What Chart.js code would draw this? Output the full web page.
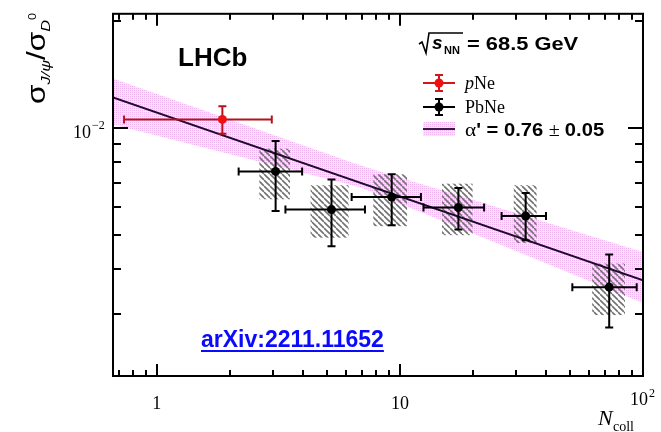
<!DOCTYPE html>
<html><head><meta charset="utf-8">
<script src="https://cdn.jsdelivr.net/npm/chart.js@4.4.0/dist/chart.umd.min.js"></script>
<style>html,body{margin:0;padding:0;background:#fff;}#wrap{width:661px;height:432px;}</style>
</head><body><div id="wrap"><canvas id="c" width="661" height="432"></canvas></div>
<script>
// ---------------- data ----------------
const pNeN        = [1.86];
const pNeRatio    = [0.01058];
const pNeNLow     = [0.733];
const pNeNHigh    = [2.97];
const pNeStatLow  = [0.00964];
const pNeStatHigh = [0.01153];

const pbNeN        = [3.08, 5.23, 9.25, 17.4, 32.9, 72.6];
const pbNeRatio    = [0.00755, 0.00589, 0.00639, 0.00597, 0.00565, 0.00356];
const pbNeNLow     = [2.17, 3.38, 6.33, 12.5, 26.2, 51.2];
const pbNeNHigh    = [3.96, 7.18, 12.2, 22.2, 39.9, 94.2];
const pbNeStatLow  = [0.00584, 0.00464, 0.00532, 0.00518, 0.00483, 0.00274];
const pbNeStatHigh = [0.00919, 0.00716, 0.00741, 0.00678, 0.00656, 0.00440];
const pbNeSysNLow  = [2.64, 4.29, 7.77, 14.9, 29.4, 61.8];
const pbNeSysNHigh = [3.53, 6.15, 10.7, 19.9, 36.5, 84.3];
const pbNeSysLow   = [0.00630, 0.00491, 0.00529, 0.00499, 0.00474, 0.00297];
const pbNeSysHigh  = [0.00875, 0.00690, 0.00741, 0.00697, 0.00690, 0.00415];

const fitN     = [0.66, 100];
const fitRatio = [0.0122, 0.00372];
const bandN    = [0.66, 6.85, 100];
const bandHigh = [0.0138, 0.00785, 0.00447];
const bandLow  = [0.01024, 0.00681, 0.00321];

const xTickValues = [0.7,0.8,0.9,1,2,3,4,5,6,7,8,9,10,20,30,40,50,60,70,80,90,100];
const xTickLabels = {1:'1', 10:'10'};
const yTickValues = [0.002,0.003,0.004,0.005,0.006,0.007,0.008,0.009,0.01,0.02];

const legendLabels = ['pNe', 'PbNe', "\u03b1' = 0.76 \u00b1 0.05"];
const energyLabel = '= 68.5 GeV';
const experimentLabel = 'LHCb';
const refLabel = 'arXiv:2211.11652';

// ---------------- helpers ----------------
const canvas = document.getElementById('c');
const ctx0 = canvas.getContext('2d');
function makeStipple(){
  const c = document.createElement('canvas'); c.width = 2; c.height = 2;
  const g = c.getContext('2d');
  g.fillStyle = '#fbe3fb'; g.fillRect(0,0,2,2);
  g.fillStyle = '#efb3ef'; g.fillRect(0,0,1,1);
  return ctx0.createPattern(c,'repeat');
}
function makeHatch(){
  const s = 6;
  const c = document.createElement('canvas'); c.width = s; c.height = s;
  const g = c.getContext('2d');
  g.strokeStyle = '#727272'; g.lineWidth = 1.6;
  g.beginPath();
  for (let k=-1;k<=1;k++){ g.moveTo(0, k*s); g.lineTo(s, s + k*s); }
  g.stroke();
  return ctx0.createPattern(c,'repeat');
}
const stipple = makeStipple();
const hatch = makeHatch();
const isMajor = v => Math.abs(Math.log10(v) - Math.round(Math.log10(v))) < 1e-6;

let xsc, ysc;
function drawErrors(ctx, xs, ys, xl, xh, yl, yh, color, ch){
  ctx.save();
  ctx.strokeStyle = color; ctx.lineWidth = 2; ctx.lineCap = 'butt';
  for (let i=0;i<xs.length;i++){
    const px = xsc.getPixelForValue(xs[i]), py = ysc.getPixelForValue(ys[i]);
    const x1 = xsc.getPixelForValue(xl[i]), x2 = xsc.getPixelForValue(xh[i]);
    const y1 = ysc.getPixelForValue(yh[i]), y2 = ysc.getPixelForValue(yl[i]);
    ctx.beginPath();
    ctx.moveTo(x1, py); ctx.lineTo(x2, py);
    ctx.moveTo(px, y1); ctx.lineTo(px, y2);
    ctx.moveTo(x1, py-ch); ctx.lineTo(x1, py+ch);
    ctx.moveTo(x2, py-ch); ctx.lineTo(x2, py+ch);
    ctx.moveTo(px-ch, y1); ctx.lineTo(px+ch, y1);
    ctx.moveTo(px-ch, y2); ctx.lineTo(px+ch, y2);
    ctx.stroke();
  }
  ctx.restore();
}

const decor = {
  id: 'decor',
  beforeDatasetDraw(chart, args){
    xsc = chart.scales.x; ysc = chart.scales.y;
    const ds = chart.data.datasets[args.index];
    const ctx = chart.ctx;
    const a = chart.chartArea;
    if (ds.kind === 'fit'){
      ctx.save();
      ctx.beginPath(); ctx.rect(a.left, a.top, a.right-a.left, a.bottom-a.top); ctx.clip();
      ctx.fillStyle = hatch;
      for (let i=0;i<pbNeN.length;i++){
        const x1 = xsc.getPixelForValue(pbNeSysNLow[i]), x2 = xsc.getPixelForValue(pbNeSysNHigh[i]);
        const y1 = ysc.getPixelForValue(pbNeSysHigh[i]), y2 = ysc.getPixelForValue(pbNeSysLow[i]);
        ctx.fillRect(x1, y1, x2-x1, y2-y1);
      }
      ctx.restore();
    }
    if (ds.kind === 'pne') drawErrors(ctx, pNeN, pNeRatio, pNeNLow, pNeNHigh, pNeStatLow, pNeStatHigh, '#b3141c', 4);
    if (ds.kind === 'pbne') drawErrors(ctx, pbNeN, pbNeRatio, pbNeNLow, pbNeNHigh, pbNeStatLow, pbNeStatHigh, '#000', 4);
  },
  afterDraw(chart){
    const ctx = chart.ctx, a = chart.chartArea;
    xsc = chart.scales.x; ysc = chart.scales.y;
    ctx.save();
    // inner ticks (mirrored on all four sides)
    ctx.strokeStyle = '#000'; ctx.lineWidth = 2;
    ctx.beginPath();
    xTickValues.forEach(v => {
      const px = Math.round(xsc.getPixelForValue(v));
      const L = isMajor(v) ? 12 : 6;
      ctx.moveTo(px, a.bottom); ctx.lineTo(px, a.bottom - L);
      ctx.moveTo(px, a.top); ctx.lineTo(px, a.top + L);
    });
    yTickValues.forEach(v => {
      const py = Math.round(ysc.getPixelForValue(v));
      const L = isMajor(v) ? 15 : 8;
      ctx.moveTo(a.left, py); ctx.lineTo(a.left + L, py);
      ctx.moveTo(a.right, py); ctx.lineTo(a.right - L, py);
    });
    ctx.stroke();
    ctx.strokeRect(a.left, a.top, a.right - a.left, a.bottom - a.top);

    // power-of-ten labels
    ctx.fillStyle = '#000';
    ctx.textBaseline = 'alphabetic';
    let px = xsc.getPixelForValue(100);
    ctx.font = '18px "Liberation Serif"'; ctx.textAlign = 'right';
    ctx.fillText('10', px + 5, 405);
    ctx.font = '12px "Liberation Serif"'; ctx.textAlign = 'left';
    ctx.fillText('2', px + 6, 397);
    let py = ysc.getPixelForValue(0.01);
    ctx.font = '18px "Liberation Serif"'; ctx.textAlign = 'right';
    ctx.fillText('10', 91, py + 10);
    ctx.font = '12px "Liberation Serif"'; ctx.textAlign = 'left';
    ctx.fillText('\u22122', 92, py + 1);

    // x title
    ctx.font = 'italic 22px "Liberation Serif"'; ctx.textAlign = 'left';
    ctx.fillText('N', 598, 425);
    ctx.font = '14px "Liberation Serif"';
    ctx.fillText('coll', 613, 431);

    // y title (rotated)
    ctx.save();
    ctx.translate(45, 104);
    ctx.rotate(-Math.PI/2);
    const parts = [
      {t:'\u03c3', f:'25px "Liberation Sans"', dy:0},
      {t:'J/\u03c8', f:'italic 13px "Liberation Sans"', dy:5},
      {t:'/', f:'25px "Liberation Sans"', dy:0},
      {t:'\u03c3', f:'25px "Liberation Sans"', dy:0},
      {t:'D', f:'italic 13px "Liberation Sans"', dy:5},
      {t:'0', f:'10px "Liberation Sans"', dy:-9}
    ];
    let tot = 0;
    parts.forEach(p => { ctx.font = p.f; p.w = ctx.measureText(p.t).width; tot += p.w; });
    ctx.scale(91 / tot, 1);
    let cx = 0;
    ctx.textAlign = 'left';
    parts.forEach(p => { ctx.font = p.f; ctx.fillText(p.t, cx, p.dy); cx += p.w; });
    ctx.restore();

    // LHCb
    ctx.font = 'bold 26px "Liberation Sans"'; ctx.textAlign = 'left';
    ctx.fillText(experimentLabel, 178, 66);

    // sqrt(s_NN) = 68.5 GeV
    ctx.lineWidth = 1.6; ctx.strokeStyle = '#000';
    ctx.beginPath();
    ctx.moveTo(419, 44); ctx.lineTo(422, 42); ctx.lineTo(426, 53); ctx.lineTo(429, 33); ctx.lineTo(463, 33);
    ctx.stroke();
    ctx.font = 'italic bold 19px "Liberation Sans"';
    ctx.fillText('s', 432, 49);
    ctx.font = 'bold 11px "Liberation Sans"';
    ctx.fillText('NN', 444, 54);
    ctx.font = 'bold 19px "Liberation Sans"';
    ctx.save(); ctx.translate(467, 50); ctx.scale(1.15, 1); ctx.fillText(energyLabel, 0, 0); ctx.restore();

    // legend
    const lx1 = 423, lx2 = 455, lxm = 439;
    function legErr(y, lineCol, markCol){
      ctx.strokeStyle = lineCol; ctx.lineWidth = 2;
      ctx.beginPath();
      ctx.moveTo(lx1, y); ctx.lineTo(lx2, y);
      ctx.moveTo(lxm, y-8); ctx.lineTo(lxm, y+8);
      ctx.moveTo(lxm-4, y-8); ctx.lineTo(lxm+4, y-8);
      ctx.moveTo(lxm-4, y+8); ctx.lineTo(lxm+4, y+8);
      ctx.stroke();
      ctx.fillStyle = markCol;
      ctx.beginPath(); ctx.arc(lxm, y, 4.5, 0, Math.PI*2); ctx.fill();
    }
    legErr(83, '#d01818', '#ee1111');
    legErr(107, '#000', '#000');
    ctx.fillStyle = stipple; ctx.fillRect(lx1, 122, lx2-lx1, 14);
    ctx.strokeStyle = '#3b1a48'; ctx.lineWidth = 2;
    ctx.beginPath(); ctx.moveTo(lx1, 129); ctx.lineTo(lx2, 129); ctx.stroke();

    ctx.fillStyle = '#000'; ctx.textBaseline = 'alphabetic';
    ctx.font = 'italic 18px "Liberation Serif"';
    ctx.fillText('p', 465, 89);
    const pw = ctx.measureText('p').width;
    ctx.font = '18px "Liberation Serif"';
    ctx.fillText('Ne', 465 + pw, 89);
    ctx.fillText(legendLabels[1], 465, 113);
    ctx.save(); ctx.translate(465, 136); ctx.scale(1.12, 1);
    ctx.font = '19px "Liberation Serif"';
    ctx.fillText('\u03b1', 0, 0);
    const aw = ctx.measureText('\u03b1').width;
    ctx.font = 'bold 18px "Liberation Sans"';
    ctx.fillText("' = 0.76 ", aw, 0);
    let bw = aw + ctx.measureText("' = 0.76 ").width;
    ctx.font = '18px "Liberation Serif"';
    ctx.fillText('\u00b1', bw, 0);
    bw += ctx.measureText('\u00b1 ').width;
    ctx.font = 'bold 18px "Liberation Sans"';
    ctx.fillText('0.05', bw, 0);
    ctx.restore();

    // arXiv reference
    ctx.font = 'bold 23px "Liberation Sans"';
    ctx.fillStyle = '#0a0aff';
    ctx.fillText(refLabel, 201, 347);
    const rw = ctx.measureText(refLabel).width;
    ctx.fillRect(201, 350, rw, 2);
    ctx.restore();
  }
};

const chart = new Chart(canvas, {
  type: 'scatter',
  data: {
    datasets: [
      { kind:'bandHigh', data: bandN.map((x,i)=>({x, y:bandHigh[i]})), showLine:true, fill:'+1',
        backgroundColor: stipple, borderWidth:0, pointRadius:0, order:4 },
      { kind:'bandLow', data: bandN.map((x,i)=>({x, y:bandLow[i]})), showLine:true, fill:false,
        borderWidth:0, pointRadius:0, order:3 },
      { kind:'fit', data: fitN.map((x,i)=>({x, y:fitRatio[i]})), showLine:true, fill:false,
        borderColor:'#1c0f2a', borderWidth:2, pointRadius:0, order:2 },
      { kind:'pbne', data: pbNeN.map((x,i)=>({x, y:pbNeRatio[i]})), pointRadius:4.5,
        pointBackgroundColor:'#000', pointBorderWidth:0, order:1 },
      { kind:'pne', data: pNeN.map((x,i)=>({x, y:pNeRatio[i]})), pointRadius:4.5,
        pointBackgroundColor:'#ee1111', pointBorderWidth:0, order:0 }
    ]
  },
  options: {
    responsive:false, animation:false, devicePixelRatio:1,
    layout:{ padding:{ left:0, right:18, top:13, bottom:0 } },
    plugins:{ legend:{display:false}, tooltip:{enabled:false} },
    scales:{
      x:{ type:'logarithmic', min:0.66, max:100,
          afterBuildTicks: s => { s.ticks = xTickValues.map(v => ({value:v})); },
          afterFit: s => { s.height = 56; },
          grid:{ display:false, drawTicks:false }, border:{ display:false },
          ticks:{ autoSkip:false, maxRotation:0, padding:17, color:'#000',
                  font:{ family:'Liberation Serif', size:18 },
                  callback: (v) => { for (const k in xTickLabels) if (Math.abs(v-k) < 1e-9) return xTickLabels[k]; return ''; } } },
      y:{ type:'logarithmic', min:0.002, max:0.021,
          afterBuildTicks: s => { s.ticks = yTickValues.map(v => ({value:v})); },
          afterFit: s => { s.width = 113; },
          grid:{ display:false, drawTicks:false }, border:{ display:false },
          ticks:{ display:true, autoSkip:false, color:'#000', font:{ family:'Liberation Serif', size:18 },
                  callback: () => '' } }
    }
  },
  plugins:[decor]
});
</script></body></html>
